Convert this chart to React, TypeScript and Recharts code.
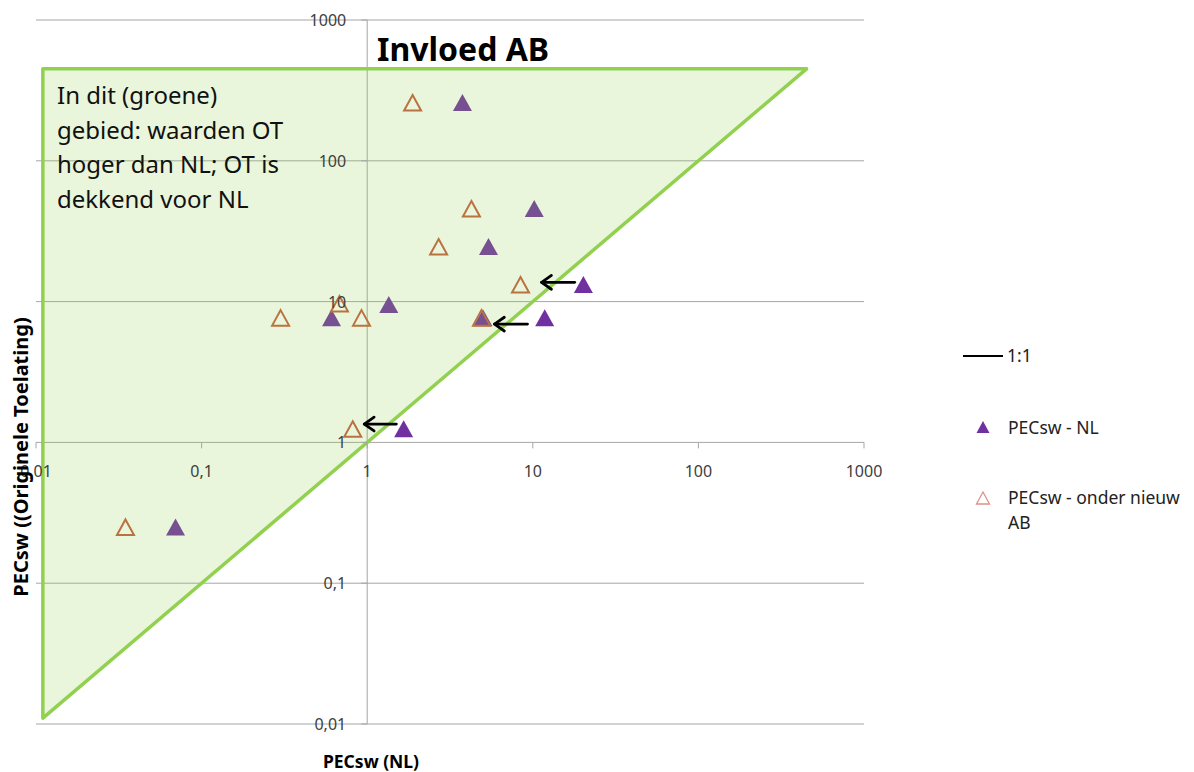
import React from 'react';
import {
  ScatterChart,
  Scatter,
  XAxis,
  YAxis,
  ReferenceLine,
  ReferenceDot,
  ReferenceArea,
} from 'recharts';

// decades on both log axes (Dutch decimal comma)
const TICKS = [0.01, 0.1, 1, 10, 100, 1000];
const TICK_LABELS = ['0,01', '0,1', '1', '10', '100', '1000'];

// PECsw - NL (filled purple triangles)
const NL_X = [3.76, 10.2, 5.4, 20.2, 1.35, 0.609, 5.0, 11.8, 1.66, 0.0696];
const NL_Y = [257, 45.4, 24.4, 13.1, 9.45, 7.63, 7.63, 7.63, 1.24, 0.249];

// PECsw - onder nieuw AB (open triangles)
const AB_X = [1.88, 4.26, 2.7, 8.43, 0.3, 0.68, 0.924, 4.9, 0.818, 0.0347];
const AB_Y = [257, 45.4, 24.4, 13.1, 7.63, 9.6, 7.63, 7.63, 1.24, 0.249];

// 1:1 line end points
const ONE_X = [0.011, 200];

// green region (OT higher than NL): corner values
const REGION_MIN = 0.011;
const REGION_MAX = 450;

// annotation arrows: tail x, head x, y
const ARROW_TAIL_X = [17.9, 9.29, 1.5];
const ARROW_HEAD_X = [11.3, 5.87, 0.96];
const ARROW_Y = [13.7, 6.92, 1.35];

const nlData = NL_X.map((x, i) => ({ x, y: NL_Y[i] }));
const abData = AB_X.map((x, i) => ({ x, y: AB_Y[i] }));
const oneData = ONE_X.map((x) => ({ x, y: x }));

const PURPLE = '#7030a0';
const ORANGE = '#c55a3c';
const GREEN = '#92d050';
const GRID = '#a6a6a6';
const FONT = '"Noto Sans", "Open Sans", sans-serif';

const FilledTriangle = (props: any) => {
  const { cx, cy } = props;
  return (
    <path
      d={`M${cx},${cy - 9} L${cx + 9.5},${cy + 8} L${cx - 9.5},${cy + 8} Z`}
      fill={PURPLE}
    />
  );
};

const OpenTriangle = (props: any) => {
  const { cx, cy } = props;
  return (
    <path
      d={`M${cx},${cy - 8} L${cx + 8.5},${cy + 7.5} L${cx - 8.5},${cy + 7.5} Z`}
      fill="none"
      stroke={ORANGE}
      strokeWidth={2}
    />
  );
};

const RegionShape = (props: any) => {
  const { x, y, width, height } = props;
  return (
    <path
      d={`M${x},${y} L${x + width},${y} L${x},${y + height} Z`}
      fill={GREEN}
      fillOpacity={0.2}
      stroke={GREEN}
      strokeWidth={3.5}
      strokeLinejoin="round"
    />
  );
};

const ArrowShape = (props: any) => {
  const { x1, y1, x2, y2 } = props;
  const len = Math.hypot(x2 - x1, y2 - y1) || 1;
  const dx = (x2 - x1) / len;
  const dy = (y2 - y1) / len;
  const a = (35 * Math.PI) / 180;
  const arm = 12;
  const ax1 = x2 - arm * (dx * Math.cos(a) - dy * Math.sin(a));
  const ay1 = y2 - arm * (dx * Math.sin(a) + dy * Math.cos(a));
  const ax2 = x2 - arm * (dx * Math.cos(-a) - dy * Math.sin(-a));
  const ay2 = y2 - arm * (dx * Math.sin(-a) + dy * Math.cos(-a));
  return (
    <g stroke="#000" strokeWidth={2.8} fill="none" strokeLinecap="round" strokeLinejoin="round">
      <line x1={x1} y1={y1} x2={x2} y2={y2} />
      <polyline points={`${ax1},${ay1} ${x2},${y2} ${ax2},${ay2}`} />
    </g>
  );
};

const xTick = (label: string) => (props: any) => {
  const { cx, cy } = props;
  return (
    <g>
      <line x1={cx} y1={cy} x2={cx} y2={cy + 6} stroke={GRID} strokeWidth={1} />
      <text x={cx} y={cy + 35} textAnchor="middle" fontSize={16} fontFamily={FONT} fill="#404040">
        {label}
      </text>
    </g>
  );
};

const yTick = (label: string) => (props: any) => {
  const { cx, cy } = props;
  return (
    <g>
      <line x1={cx} y1={cy} x2={cx - 6} y2={cy} stroke={GRID} strokeWidth={1} />
      <text x={cx - 21} y={cy + 6} textAnchor="end" fontSize={16} fontFamily={FONT} fill="#404040">
        {label}
      </text>
    </g>
  );
};

export default function App() {
  return (
    <div style={{ position: 'absolute', left: 0, top: 0, width: 1194, height: 772 }}>
      <ScatterChart
        width={1194}
        height={772}
        margin={{ top: 20, right: 330, bottom: 48, left: 36 }}
      >
        <XAxis type="number" dataKey="x" scale="log" domain={[0.01, 1000]} allowDataOverflow hide />
        <YAxis type="number" dataKey="y" scale="log" domain={[0.01, 1000]} allowDataOverflow hide width={0} />

        {/* horizontal gridlines */}
        {TICKS.map((t) => (
          <ReferenceLine key={`g${t}`} y={t} stroke={GRID} strokeWidth={1} ifOverflow="visible" zIndex={-50} />
        ))}
        {/* axis crossing at 1 */}
        <ReferenceLine x={1} stroke={GRID} strokeWidth={1} ifOverflow="visible" zIndex={-40} />

        <Scatter data={nlData} shape={FilledTriangle} isAnimationActive={false} />
        <Scatter data={abData} shape={OpenTriangle} isAnimationActive={false} />

        <Scatter
          data={oneData}
          line={{ stroke: '#222', strokeWidth: 1.4 }}
          lineType="joint"
          shape={() => <g />}
          isAnimationActive={false}
          zIndex={640}
        />

        <ReferenceArea
          x1={REGION_MIN}
          x2={REGION_MAX}
          y1={REGION_MIN}
          y2={REGION_MAX}
          ifOverflow="visible"
          shape={RegionShape}
          zIndex={650}
        />

        {ARROW_Y.map((y, i) => (
          <ReferenceLine
            key={`a${i}`}
            segment={[
              { x: ARROW_TAIL_X[i], y },
              { x: ARROW_HEAD_X[i], y },
            ]}
            shape={ArrowShape}
            ifOverflow="visible"
            zIndex={700}
          />
        ))}

        {TICKS.map((t, i) => (
          <ReferenceDot key={`xt${t}`} x={t} y={1} r={0} shape={xTick(TICK_LABELS[i])} ifOverflow="visible" zIndex={800} />
        ))}
        {TICKS.map((t, i) => (
          <ReferenceDot key={`yt${t}`} x={1} y={t} r={0} shape={yTick(TICK_LABELS[i])} ifOverflow="visible" zIndex={800} />
        ))}
      </ScatterChart>

      <svg
        width={1194}
        height={772}
        style={{ position: 'absolute', left: 0, top: 0, pointerEvents: 'none' }}
        fontFamily={FONT}
      >
        <text x={377} y={61} fontSize={32} fontWeight="bold" fill="#000">
          Invloed AB
        </text>

        <g fontSize={24} fill="#111">
          <text x={57} y={104}>In dit (groene)</text>
          <text x={57} y={139}>gebied: waarden OT</text>
          <text x={57} y={173}>hoger dan NL; OT is</text>
          <text x={57} y={208}>dekkend voor NL</text>
        </g>

        <text x={371} y={768} fontSize={17.5} fontWeight="bold" textAnchor="middle" fill="#000">
          PECsw (NL)
        </text>
        <text
          x={20}
          y={457}
          fontSize={20}
          fontWeight="bold"
          textAnchor="middle"
          dominantBaseline="central"
          fill="#000"
          transform="rotate(-90, 20, 457)"
        >
          PECsw ((Originele Toelating)
        </text>

        {/* legend */}
        <g fontSize={17.5} fill="#222">
          <line x1={963} y1={356} x2={1003} y2={356} stroke="#000" strokeWidth={2} />
          <text x={1007} y={362}>1:1</text>

          <path d="M983,421 L989.5,433 L976.5,433 Z" fill={PURPLE} />
          <text x={1008} y={434}>PECsw - NL</text>

          <path d="M983,492 L989.5,504 L976.5,504 Z" fill="none" stroke="#e0908a" strokeWidth={1.3} />
          <text x={1008} y={504}>PECsw - onder nieuw</text>
          <text x={1008} y={529}>AB</text>
        </g>
      </svg>
    </div>
  );
}
